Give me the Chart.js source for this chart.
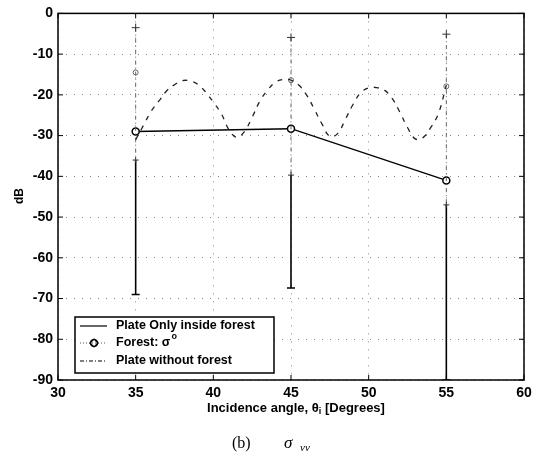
<!DOCTYPE html>
<html>
<head>
<meta charset="utf-8">
<script src="https://cdn.jsdelivr.net/npm/chart.js@4.4.1/dist/chart.umd.min.js"></script>
<style>
  html, body { margin: 0; padding: 0; background: #fff; }
  #chart { display: block; }
</style>
</head>
<body>
<canvas id="chart" width="543" height="463"></canvas>
<script>
// measured angles (deg) and levels (dB)
const angles = [35, 45, 55];
const plateInside = [-29, -28.3, -41];
const forestSigma = [-14.5, -16.4, -17.9];

// spread bars at each angle
const solidBarTop = [-36, -39.7, -47];
const solidBarBottom = [-69, -67.4, -90];
const dashBarTop = [-3.5, -5.9, -5.1];

// plate without forest
const curveAngles = [35, 35.5, 36, 36.5, 37, 37.5, 38, 38.5, 39, 39.5, 40, 40.5, 41, 41.5, 42, 42.5, 43, 43.5, 44, 44.5,
  45, 45.5, 46, 46.5, 47, 47.5, 48, 48.5, 49, 49.5, 50, 50.5, 51, 51.5, 52, 52.5, 53, 53.5, 54, 54.5, 55];
const plateWithout = [-31, -27.5, -24, -21.5, -19, -17.5, -16.5, -16.6, -17.4, -19.3, -21.8, -24.5, -28.5, -30.4, -29, -25.5, -21.5, -18.8, -16.9, -16.2,
  -16.4, -17.6, -20, -23.5, -27.2, -30.2, -29.5, -26, -22.3, -19.4, -18.3, -18.2, -18.8, -20.8, -24.2, -28, -30.8, -30.5, -28, -24.5, -17.6];

const xTicks = [30, 35, 40, 45, 50, 55, 60];
const yTicks = [0, -10, -20, -30, -40, -50, -60, -70, -80, -90];

const el = (id) => document.getElementById(id);
const pts = (xs, ys) => xs.map((x, i) => ({ x, y: ys[i] }));
const FONT = "'Liberation Sans', Arial, sans-serif";

function barSets(){
  const out = [];
  angles.forEach((a, i) => {
    out.push({
      data: [{ x: a, y: dashBarTop[i] }, { x: a, y: solidBarTop[i] }],
      borderColor: "#666", borderWidth: 1, borderDash: [4, 3, 1, 3],
      pointStyle: ["cross", "cross"], pointRadius: [4, 3], pointBorderColor: "#333", pointBorderWidth: 1
    });
    out.push({
      data: [{ x: a, y: solidBarTop[i] }, { x: a, y: solidBarBottom[i] }],
      borderColor: "#000", borderWidth: 1.6,
      pointStyle: ["cross", "line"], pointRadius: [0, 4], pointBorderColor: "#000", pointBorderWidth: 1.5
    });
  });
  return out;
}

const frame = {
  id: "frame",
  afterDraw(chart){
    const { ctx, chartArea: a, scales } = chart;
    ctx.save();
    ctx.setLineDash([]);
    ctx.strokeStyle = "#000";
    ctx.lineWidth = 1.5;
    ctx.strokeRect(a.left, a.top, a.right - a.left, a.bottom - a.top);
    ctx.lineWidth = 1;
    xTicks.forEach(v => {
      const x = scales.x.getPixelForValue(v);
      ctx.beginPath();
      ctx.moveTo(x, a.bottom); ctx.lineTo(x, a.bottom - 5);
      ctx.moveTo(x, a.top); ctx.lineTo(x, a.top + 5);
      ctx.stroke();
    });
    yTicks.forEach(v => {
      const y = scales.y.getPixelForValue(v);
      ctx.beginPath();
      ctx.moveTo(a.left, y); ctx.lineTo(a.left + 5, y);
      ctx.moveTo(a.right, y); ctx.lineTo(a.right - 5, y);
      ctx.stroke();
    });

    // legend box
    const lx = 75, ly = 317, lw = 199, lh = 56;
    ctx.fillStyle = "#fff";
    ctx.fillRect(lx, ly, lw, lh);
    ctx.lineWidth = 1.5;
    ctx.strokeRect(lx, ly, lw, lh);
    ctx.fillStyle = "#000";
    ctx.font = "bold 12.5px " + FONT;
    ctx.textBaseline = "middle";
    ctx.textAlign = "left";
    const rows = [326, 343, 361];
    ctx.lineWidth = 1.2;
    ctx.beginPath(); ctx.moveTo(80, rows[0]); ctx.lineTo(107, rows[0]); ctx.stroke();
    ctx.fillText("Plate Only inside forest", 116, rows[0]);

    ctx.setLineDash([1, 2]);
    ctx.strokeStyle = "#555";
    ctx.beginPath(); ctx.moveTo(80, rows[1]); ctx.lineTo(107, rows[1]); ctx.stroke();
    ctx.setLineDash([]);
    ctx.strokeStyle = "#000";
    ctx.beginPath(); ctx.arc(94, rows[1], 3.5, 0, Math.PI * 2); ctx.stroke();
    ctx.beginPath(); ctx.moveTo(94, rows[1] - 4); ctx.lineTo(98, rows[1]); ctx.lineTo(94, rows[1] + 4); ctx.lineTo(90, rows[1]); ctx.closePath(); ctx.stroke();
    ctx.fillText("Forest: \u03c3", 116, rows[1]);
    const w = ctx.measureText("Forest: \u03c3").width;
    ctx.font = "bold 9px " + FONT;
    ctx.fillText("o", 116 + w + 1, rows[1] - 6);

    ctx.font = "bold 12.5px " + FONT;
    ctx.setLineDash([4, 2, 1, 2]);
    ctx.beginPath(); ctx.moveTo(80, rows[2]); ctx.lineTo(107, rows[2]); ctx.stroke();
    ctx.setLineDash([]);
    ctx.fillText("Plate without forest", 116, rows[2]);

    // axis titles
    ctx.font = "bold 13px " + FONT;
    const t1 = "Incidence angle, \u03b8", t2 = " [Degrees]";
    const w1 = ctx.measureText(t1).width, w2 = ctx.measureText(t2).width;
    ctx.font = "bold 9px " + FONT;
    const ws = ctx.measureText("i").width;
    const sx = 296 - (w1 + ws + w2) / 2;
    ctx.font = "bold 13px " + FONT;
    ctx.fillText(t1, sx, 408);
    ctx.font = "bold 9px " + FONT;
    ctx.fillText("i", sx + w1, 412);
    ctx.font = "bold 13px " + FONT;
    ctx.fillText(t2, sx + w1 + ws, 408);

    ctx.save();
    ctx.translate(20, 196);
    ctx.rotate(-Math.PI / 2);
    ctx.textAlign = "center";
    ctx.font = "bold 12px " + FONT;
    ctx.fillText("dB", 0, 0);
    ctx.restore();

    // caption
    ctx.textAlign = "left";
    ctx.font = "16px 'Liberation Serif', 'Times New Roman', serif";
    ctx.fillText("(b)", 232, 444);
    ctx.font = "italic 17px 'Liberation Serif', 'Times New Roman', serif";
    ctx.fillText("\u03c3", 284, 444);
    ctx.font = "italic 11px 'Liberation Serif', 'Times New Roman', serif";
    ctx.fillText("vv", 300, 448);
    ctx.restore();
  }
};

function init(){
  const ctx = el("chart").getContext("2d");
  const tickFont = { family: FONT, size: 14, weight: "bold" };
  new Chart(ctx, {
    type: "line",
    data: {
      datasets: [
        {
          label: "Plate without forest",
          data: pts(curveAngles, plateWithout),
          borderColor: "#222", borderWidth: 1.3, borderDash: [5, 6],
          pointRadius: 0, tension: 0.4
        },
        ...barSets(),
        {
          label: "Plate Only inside forest",
          data: pts(angles, plateInside),
          borderColor: "#000", borderWidth: 1.4,
          pointStyle: "circle", pointRadius: 3.5, pointBackgroundColor: "#fff",
          pointBorderColor: "#000", pointBorderWidth: 1.5
        },
        {
          label: "Forest: \u03c3\u00b0",
          data: pts(angles, forestSigma),
          showLine: false,
          pointStyle: "circle", pointRadius: 2.5, pointBackgroundColor: "#fff",
          pointBorderColor: "#666", pointBorderWidth: 1
        }
      ]
    },
    options: {
      responsive: false,
      animation: false,
      layout: { padding: { top: 13, right: 19, left: 0, bottom: 0 } },
      plugins: { legend: { display: false }, tooltip: { enabled: false } },
      scales: {
        x: {
          type: "linear", min: 30, max: 60,
          afterFit: (s) => { s.height = 83; },
          afterBuildTicks: (s) => { s.ticks = xTicks.map(v => ({ value: v })); },
          ticks: { color: "#000", padding: 5, font: tickFont },
          grid: { color: "#888", lineWidth: 1, drawTicks: false },
          border: { display: false, dash: [1, 7] }
        },
        y: {
          type: "linear", min: -90, max: 0,
          afterFit: (s) => { s.width = 58; },
          afterBuildTicks: (s) => { s.ticks = yTicks.map(v => ({ value: v })); },
          ticks: { color: "#000", padding: 5, font: tickFont },
          grid: { color: "#888", lineWidth: 1, drawTicks: false },
          border: { display: false, dash: [1, 7] }
        }
      }
    },
    plugins: [frame]
  });
}

document.addEventListener("DOMContentLoaded", init);
</script>
</body>
</html>
